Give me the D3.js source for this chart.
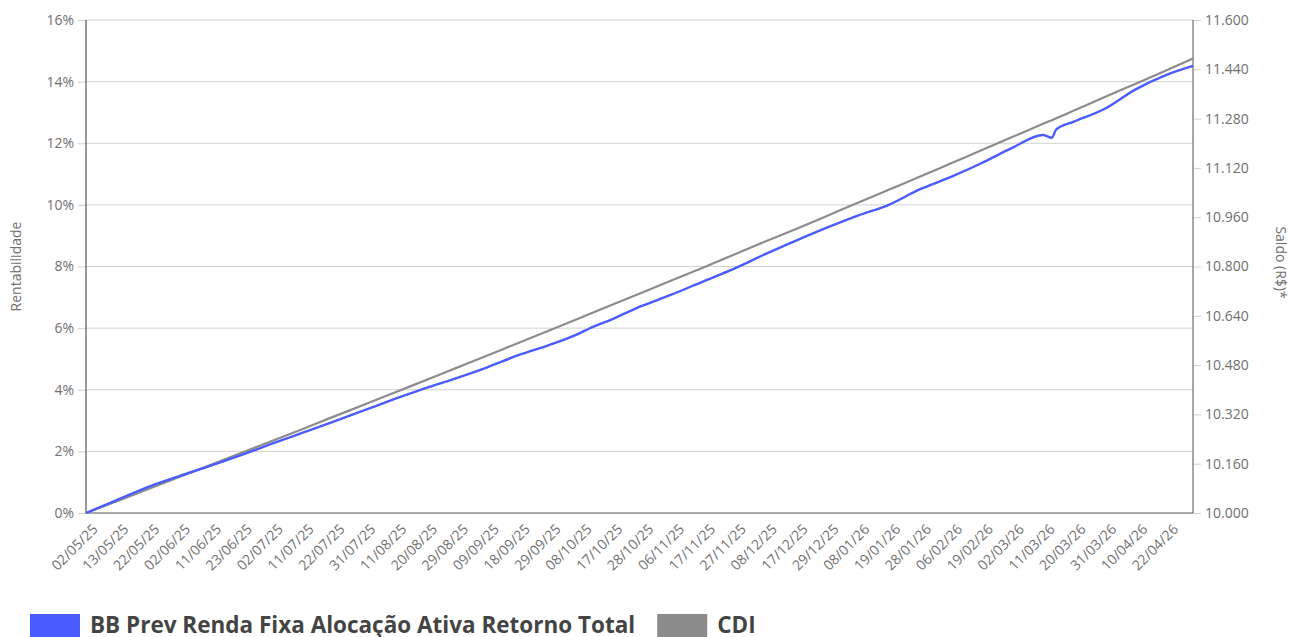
<!DOCTYPE html>
<html>
<head>
    <meta charset="utf-8">
    <script src="https://d3js.org/d3.v7.min.js"></script>
    <style>
        body { margin: 0; background: #fff; }
        text { font-family: "Open Sans", sans-serif; }
    </style>
</head>
<body>
    <svg id="plot" width="1289" height="637"></svg>
    <script>
        // x labels, one every 7 trading days
        const tickDates = ["02/05/25","13/05/25","22/05/25","02/06/25","11/06/25","23/06/25","02/07/25","11/07/25",
            "22/07/25","31/07/25","11/08/25","20/08/25","29/08/25","09/09/25","18/09/25","29/09/25","08/10/25",
            "17/10/25","28/10/25","06/11/25","17/11/25","27/11/25","08/12/25","17/12/25","29/12/25","08/01/26",
            "19/01/26","28/01/26","06/02/26","19/02/26","02/03/26","11/03/26","20/03/26","31/03/26","10/04/26","22/04/26"];

        // trading day index of each point
        const dayIdx = [0,7,14,21,28,35,42,49,56,63,70,77,84,91,98,105,112,114,119,126,133,140,147,154,161,168,
            175,182,189,196,203,210,217,219,220,224,231,238,245,251];

        // accumulated return (%)
        const fundo = [0,0.42,0.84,1.19,1.52,1.87,2.24,2.60,2.96,3.33,3.70,4.05,4.38,4.73,5.12,5.45,5.84,5.98,6.27,6.72,
            7.10,7.52,7.93,8.40,8.84,9.26,9.65,10.00,10.50,10.90,11.35,11.85,12.27,12.18,12.45,12.70,13.12,13.75,14.22,14.51];
        const cdi = [0,0.38,0.77,1.16,1.55,1.94,2.33,2.72,3.12,3.51,3.91,4.31,4.71,5.11,5.52,5.92,6.33,6.45,6.74,7.15,
            7.56,7.97,8.39,8.81,9.22,9.64,10.07,10.49,10.91,11.34,11.77,12.20,12.63,12.75,12.81,13.06,13.50,13.93,14.37,14.75];

        const pctTicks = [0,2,4,6,8,10,12,14,16];
        const saldoTicks = [10000,10160,10320,10480,10640,10800,10960,11120,11280,11440,11600];

        const seriesNames = ["BB Prev Renda Fixa Alocação Ativa Retorno Total", "CDI"];
        const seriesColors = ["#4a5cff", "#8c8c8c"];

        const svg = d3.select('svg#plot');
        const margin = {top: 20, right: 96, bottom: 124, left: 86};
        const width = +svg.attr('width');
        const height = +svg.attr('height');
        const chartWidth = width - margin.left - margin.right;
        const chartHeight = height - margin.top - margin.bottom;

        const chartArea = svg.append('g')
            .attr('transform', `translate(${margin.left},${margin.top})`);

        const xScale = d3.scaleLinear().domain([0, 251]).range([0, chartWidth]);
        const yScale = d3.scaleLinear().domain([0, 16]).range([chartHeight, 0]);
        const saldoScale = d3.scaleLinear().domain([10000, 11600]).range([chartHeight, 0]);

        const ptBR = d3.formatLocale({decimal: ",", thousands: ".", grouping: [3], currency: ["R$", ""]});

        // gridlines
        chartArea.append('g')
            .selectAll('line')
            .data(pctTicks.filter(d => d > 0))
            .join('line')
            .attr('x1', 0).attr('x2', chartWidth)
            .attr('y1', d => yScale(d)).attr('y2', d => yScale(d))
            .style('stroke', '#d0d0d0')
            .style('stroke-width', 1);

        // left axis
        const leftAxis = chartArea.append('g')
            .call(d3.axisLeft(yScale).tickValues(pctTicks).tickFormat(d => d + '%').tickSize(8).tickPadding(4));
        leftAxis.select('.domain').remove();
        leftAxis.selectAll('.tick line').style('stroke', '#d0d0d0');
        leftAxis.selectAll('.tick text').style('fill', '#707070').style('font-size', '14px')
            .style('font-family', '"Open Sans", sans-serif');

        // right axis
        const rightAxis = chartArea.append('g')
            .attr('transform', `translate(${chartWidth},0)`)
            .call(d3.axisRight(saldoScale).tickValues(saldoTicks).tickFormat(ptBR.format(',.0f')).tickSize(8).tickPadding(4));
        rightAxis.select('.domain').remove();
        rightAxis.selectAll('.tick line').style('stroke', '#d0d0d0');
        rightAxis.selectAll('.tick text').style('fill', '#707070').style('font-size', '14px')
            .style('font-family', '"Open Sans", sans-serif');

        // bottom axis labels
        const bottomAxis = chartArea.append('g')
            .attr('transform', `translate(0,${chartHeight})`)
            .call(d3.axisBottom(xScale).tickValues(tickDates.map((d, i) => i * 7))
                .tickFormat((d, i) => tickDates[i]).tickSize(0));
        bottomAxis.select('.domain').remove();
        bottomAxis.selectAll('.tick text')
            .style('fill', '#707070').style('font-size', '14px')
            .style('font-family', '"Open Sans", sans-serif')
            .attr('text-anchor', 'end')
            .attr('dy', 0)
            .attr('transform', 'translate(10,15) rotate(-45)');

        // frame lines
        chartArea.append('line')
            .attr('x1', 0).attr('x2', 0).attr('y1', 0).attr('y2', chartHeight)
            .style('stroke', '#555').style('stroke-width', 1.2);
        chartArea.append('line')
            .attr('x1', chartWidth).attr('x2', chartWidth).attr('y1', 0).attr('y2', chartHeight)
            .style('stroke', '#8a8a8a').style('stroke-width', 1.5);
        chartArea.append('line')
            .attr('x1', 0).attr('x2', chartWidth).attr('y1', chartHeight).attr('y2', chartHeight)
            .style('stroke', '#555').style('stroke-width', 1.2);

        // lines
        const line = d3.line()
            .x((d, i) => xScale(dayIdx[i]))
            .y(d => yScale(d))
            .curve(d3.curveMonotoneX);

        chartArea.append('path')
            .datum(cdi)
            .attr('d', line)
            .style('fill', 'none')
            .style('stroke', seriesColors[1])
            .style('stroke-width', 2.2);

        chartArea.append('path')
            .datum(fundo)
            .attr('d', line)
            .style('fill', 'none')
            .style('stroke', seriesColors[0])
            .style('stroke-width', 2.4);

        // axis titles
        svg.append('text')
            .attr('transform', `translate(21,${margin.top + chartHeight / 2}) rotate(-90)`)
            .attr('text-anchor', 'middle')
            .style('font-size', '14px').style('fill', '#707070')
            .text('Rentabilidade');
        svg.append('text')
            .attr('transform', `translate(1276,${margin.top + chartHeight / 2 - 4}) rotate(90)`)
            .attr('text-anchor', 'middle')
            .style('font-size', '14px').style('fill', '#707070')
            .text('Saldo (R$)*');

        // legend
        let lx = 30;
        seriesNames.forEach((name, i) => {
            svg.append('rect')
                .attr('x', lx).attr('y', 614)
                .attr('width', 50).attr('height', 30)
                .style('fill', seriesColors[i]);
            const t = svg.append('text')
                .attr('x', lx + 60).attr('y', 633)
                .style('font-size', '22.5px').style('font-weight', 'bold').style('fill', '#444')
                .text(name);
            lx = lx + 60 + t.node().getComputedTextLength() + 22;
        });
    </script>
</body>
</html>
